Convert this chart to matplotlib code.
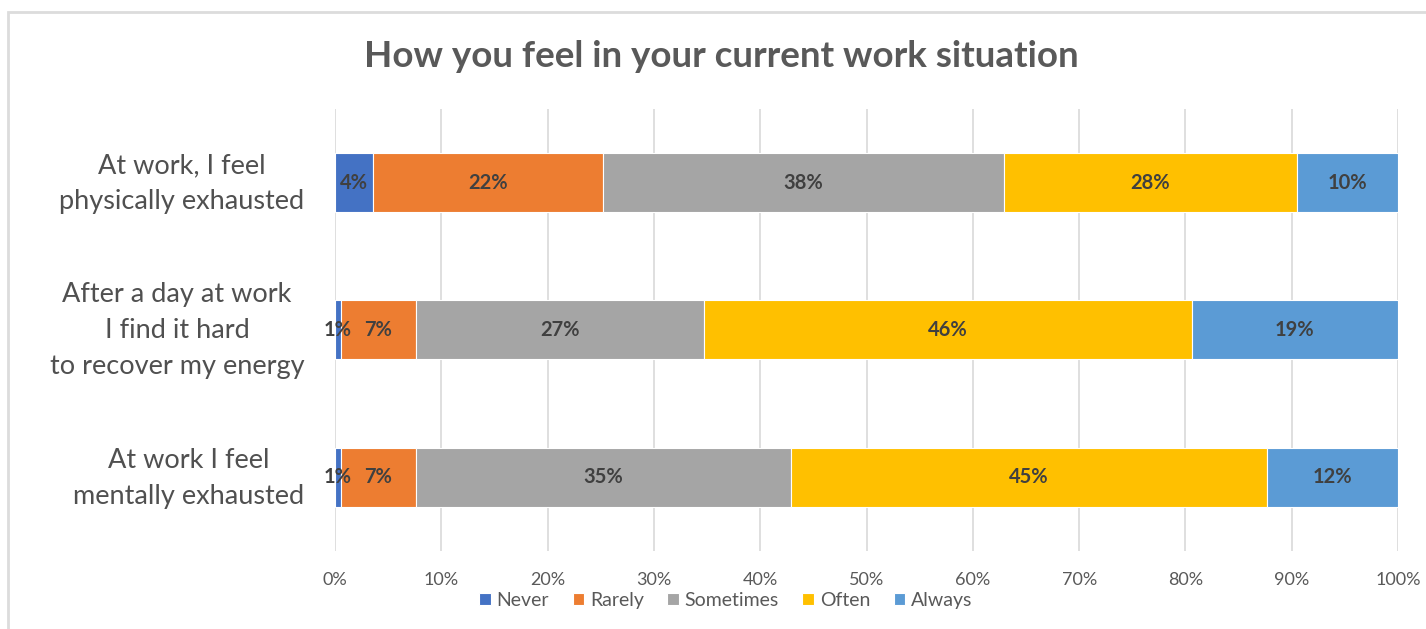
import numpy as np
import matplotlib.pyplot as plt
from matplotlib.patches import Rectangle
from matplotlib.transforms import ScaledTranslation

plt.rcParams['font.family'] = ['Lato', 'DejaVu Sans']

questions = ["At work, I feel\nphysically exhausted",
             "After a day at work\nI find it hard\nto recover my energy",
             "At work I feel\nmentally exhausted"]
answers = ["Never", "Rarely", "Sometimes", "Often", "Always"]
colors = ["#4472C4", "#ED7D31", "#A5A5A5", "#FFC000", "#5B9BD5"]

never = [3.6, 0.6, 0.6]
rarely = [21.6, 7.0, 7.0]
sometimes = [37.7, 27.1, 35.3]
often = [27.6, 45.9, 44.8]
always = [9.5, 19.4, 12.3]
series = [never, rarely, sometimes, often, always]

fig = plt.figure(figsize=(14.26, 6.29), dpi=100)
ax = fig.add_axes([0.2349, 0.124, 0.7455, 0.703])

# outer chart frame
fig.patches.append(Rectangle((8 / 1426, -0.1), 1.2, 1 - 12 / 629 + 0.1,
                             transform=fig.transFigure, fill=False,
                             edgecolor="#DCDCDC", linewidth=2))

y = np.arange(len(questions))
left = np.zeros(len(questions))
for name, vals, c in zip(answers, series, colors):
    vals = np.array(vals)
    bars = ax.barh(y, vals, left=left, height=0.4, color=c, edgecolor="white",
                   linewidth=0.8, label=name, zorder=3)
    for b, v in zip(bars, vals):
        ax.text(b.get_x() + b.get_width() / 2, b.get_y() + b.get_height() / 2,
                f"{round(v):d}%", ha="center", va="center", fontsize=14.5,
                fontweight="bold", color="#404040", zorder=4)
    left += vals

ax.set_xlim(0, 100)
ax.set_ylim(2.5, -0.5)
ax.set_xticks(np.arange(0, 101, 10))
ax.set_xticklabels([f"{t}%" for t in range(0, 101, 10)])
ax.set_yticks(y)
ax.set_yticklabels(questions, multialignment="center")
ax.tick_params(axis="x", length=0, pad=15, labelsize=13, labelcolor="#595959")
ax.tick_params(axis="y", length=0, pad=22, labelsize=19.5, labelcolor="#505050")
shift = ScaledTranslation(0, 0.07, fig.dpi_scale_trans)
for t in ax.get_yticklabels():
    t.set_linespacing(1.55)
    t.set_transform(t.get_transform() + shift)
ax.grid(axis="x", color="#D9D9D9", linewidth=1.2, zorder=0)
for s in ax.spines.values():
    s.set_visible(False)

fig.text(0.506, 0.910, "How you feel in your current work situation",
         ha="center", va="center", fontsize=26.5, fontweight="bold", color="#595959")

fig.legend(loc="center", bbox_to_anchor=(0.509, 0.046), ncol=5, frameon=False,
           fontsize=14, handlelength=0.6, handleheight=0.6, handletextpad=0.3,
           columnspacing=1.2, labelcolor="#595959")

fig.savefig("out.png", dpi=100)
